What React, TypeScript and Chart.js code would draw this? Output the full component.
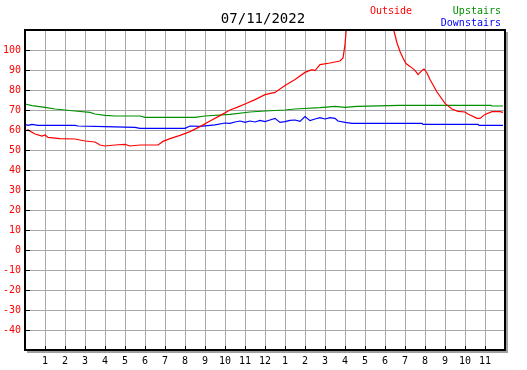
import React, { useEffect, useRef } from "react";
import { Chart, registerables } from "chart.js";

Chart.register(...registerables);

const titleText = "07/11/2022";
const seriesNames = ["Outside", "Upstairs", "Downstairs"];
const seriesColors = ["#ff0000", "#009000", "#0000ff"];

const outsideHours = [0, 0.15, 0.5, 0.85, 1.0, 1.15, 1.75, 2.5, 3.0, 3.5, 3.75, 4.0, 4.5, 5.0, 5.25, 5.75, 6.65, 6.9, 7.25, 7.75, 8.25, 8.75, 9.25, 9.75, 10.25, 10.6, 11.0, 11.5, 12.0, 12.5, 13.0, 13.5, 14.0, 14.35, 14.5, 14.75, 15.25, 15.75, 15.9, 16.0, 16.1, 18.35, 18.45, 18.6, 18.75, 18.9, 19.05, 19.25, 19.5, 19.65, 19.85, 19.95, 20.1, 20.25, 20.6, 21.0, 21.35, 21.65, 22.0, 22.15, 22.6, 22.75, 23.0, 23.35, 23.75, 23.9];
const outsideTemps = [59.5, 60, 58, 57, 57.5, 56.3, 55.7, 55.5, 54.5, 54, 52.5, 52, 52.5, 52.8, 52, 52.5, 52.5, 54.3, 55.7, 57.3, 59.2, 61.7, 64.5, 67.2, 70, 71.3, 73, 75.2, 77.7, 78.8, 82.2, 85.2, 88.8, 90.2, 89.7, 92.7, 93.5, 94.5, 96, 102.7, 115, 115, 109.5, 103.5, 99.3, 96, 93.2, 91.8, 89.8, 87.7, 89.8, 90.5, 88.5, 85.2, 79, 73.3, 70.5, 69.3, 69, 68, 65.8, 65.8, 67.8, 69.2, 69.2, 68.8];

const upstairsHours = [0, 0.35, 1.0, 1.5, 2.0, 2.5, 3.25, 3.5, 4.0, 4.5, 5.75, 6.0, 8.5, 9.0, 10.25, 11.25, 12.0, 13.0, 13.5, 14.75, 15.5, 16.0, 16.6, 18.75, 23.3, 23.35, 23.9];
const upstairsTemps = [73, 72.2, 71.3, 70.5, 70, 69.5, 68.8, 68, 67.3, 67, 67, 66.3, 66.3, 67, 67.8, 69, 69.5, 70, 70.5, 71.2, 71.8, 71.3, 71.8, 72.3, 72.3, 72, 72];

const downstairsHours = [0, 0.15, 0.35, 0.65, 2.5, 2.65, 4.0, 5.5, 5.75, 8.0, 8.25, 8.75, 9.5, 10.0, 10.25, 10.5, 10.75, 11.0, 11.25, 11.5, 11.75, 12.0, 12.25, 12.5, 12.75, 13.0, 13.25, 13.5, 13.75, 14.0, 14.25, 14.5, 14.75, 15.0, 15.25, 15.5, 15.65, 16.0, 16.35, 19.85, 19.9, 22.65, 22.7, 23.9];
const downstairsTemps = [62.8, 62.3, 62.8, 62.3, 62.3, 62, 61.7, 61.3, 60.8, 60.8, 62, 61.8, 62.6, 63.5, 63.3, 64, 64.5, 63.8, 64.5, 64, 64.8, 64.2, 65, 65.8, 63.8, 64.2, 64.8, 65, 64.3, 66.7, 64.7, 65.5, 66.2, 65.5, 66.2, 65.8, 64.5, 63.8, 63.3, 63.3, 62.8, 62.8, 62.3, 62.3];

const yMin = -50;
const yMax = 110;
const yStep = 10;
const xMin = 0;
const xMax = 24;

const FONT = "'DejaVu Sans Mono', monospace";

function toPoints(hours: number[], temps: number[]) {
  return hours.map((h, i) => ({ x: h, y: temps[i] }));
}

const framePlugin = {
  id: "frame",
  afterDraw(chart: any) {
    const { ctx, chartArea } = chart;
    const { left, right, top, bottom } = chartArea;
    const yScale = chart.scales.y;
    const xScale = chart.scales.x;
    ctx.save();
    // inner tick marks
    ctx.strokeStyle = "#000";
    ctx.lineWidth = 1;
    ctx.beginPath();
    for (let v = yMin + yStep; v < yMax; v += yStep) {
      const py = Math.round(yScale.getPixelForValue(v)) + 0.5;
      ctx.moveTo(left, py);
      ctx.lineTo(left + 5, py);
    }
    for (let h = xMin + 1; h < xMax; h++) {
      const px = Math.round(xScale.getPixelForValue(h)) + 0.5;
      ctx.moveTo(px, bottom);
      ctx.lineTo(px, bottom - 4);
    }
    ctx.stroke();
    // shadow
    ctx.fillStyle = "#a0a0a0";
    ctx.fillRect(right + 1, top + 2, 2, bottom - top + 1);
    ctx.fillRect(left + 2, bottom + 1, right - left + 1, 2);
    // frame
    ctx.fillStyle = "#000";
    ctx.fillRect(left - 1, top, 2, bottom - top + 1);
    ctx.fillRect(left - 1, bottom - 1, right - left + 2, 2);
    ctx.fillRect(left - 1, top - 1, right - left + 2, 2);
    ctx.fillRect(right - 1, top - 1, 2, bottom - top + 1);
    // title
    ctx.font = `14px ${FONT}`;
    ctx.textAlign = "center";
    ctx.textBaseline = "middle";
    ctx.fillStyle = "#000";
    ctx.fillText(titleText, 263, 19);
    // legend
    ctx.font = `10px ${FONT}`;
    ctx.textAlign = "left";
    ctx.fillStyle = seriesColors[0];
    ctx.fillText(seriesNames[0], 370, 11);
    ctx.textAlign = "right";
    ctx.fillStyle = seriesColors[1];
    ctx.fillText(seriesNames[1], 501, 11);
    ctx.fillStyle = seriesColors[2];
    ctx.fillText(seriesNames[2], 501, 23);
    ctx.restore();
  },
};

export default function App() {
  const canvasRef = useRef<HTMLCanvasElement | null>(null);

  useEffect(() => {
    if (!canvasRef.current) return;
    const chart = new Chart(canvasRef.current, {
      type: "line",
      data: {
        datasets: [
          { label: seriesNames[0], data: toPoints(outsideHours, outsideTemps), borderColor: seriesColors[0], borderWidth: 1.2, pointRadius: 0, tension: 0 },
          { label: seriesNames[1], data: toPoints(upstairsHours, upstairsTemps), borderColor: seriesColors[1], borderWidth: 1.2, pointRadius: 0, tension: 0 },
          { label: seriesNames[2], data: toPoints(downstairsHours, downstairsTemps), borderColor: seriesColors[2], borderWidth: 1.2, pointRadius: 0, tension: 0 },
        ],
      },
      options: {
        animation: false,
        responsive: false,
        maintainAspectRatio: false,
        layout: { padding: { top: 30, right: 22, bottom: 0, left: 0 } },
        plugins: { legend: { display: false }, title: { display: false }, tooltip: { enabled: false } },
        scales: {
          x: {
            type: "linear",
            min: xMin,
            max: xMax,
            afterFit: (s: any) => { s.height = 20; s.paddingLeft = 0; s.paddingRight = 0; },
            grid: { color: "#a8a8a8", lineWidth: 1, drawTicks: false },
            border: { display: false },
            ticks: {
              stepSize: 1,
              autoSkip: false,
              maxRotation: 0,
              padding: 5,
              color: "#000",
              font: { family: FONT, size: 10 },
              callback: (v: any) => {
                const n = Number(v);
                if (n <= xMin || n >= xMax) return "";
                return String(n % 12 === 0 ? 12 : n % 12);
              },
            },
          },
          y: {
            type: "linear",
            min: yMin,
            max: yMax,
            afterFit: (s: any) => { s.width = 25; },
            grid: { color: "#a8a8a8", lineWidth: 1, drawTicks: false },
            border: { display: false },
            ticks: {
              stepSize: yStep,
              autoSkip: false,
              padding: 4,
              color: "#ff0000",
              font: { family: FONT, size: 10 },
              callback: (v: any) => {
                const n = Number(v);
                if (n <= yMin || n >= yMax) return "";
                return String(n);
              },
            },
          },
        },
      },
      plugins: [framePlugin],
    });
    return () => chart.destroy();
  }, []);

  return (
    <div style={{ position: "absolute", left: 0, top: 0, width: 527, height: 370, background: "#fff" }}>
      <canvas ref={canvasRef} width={527} height={370} style={{ display: "block", width: 527, height: 370 }} />
    </div>
  );
}
